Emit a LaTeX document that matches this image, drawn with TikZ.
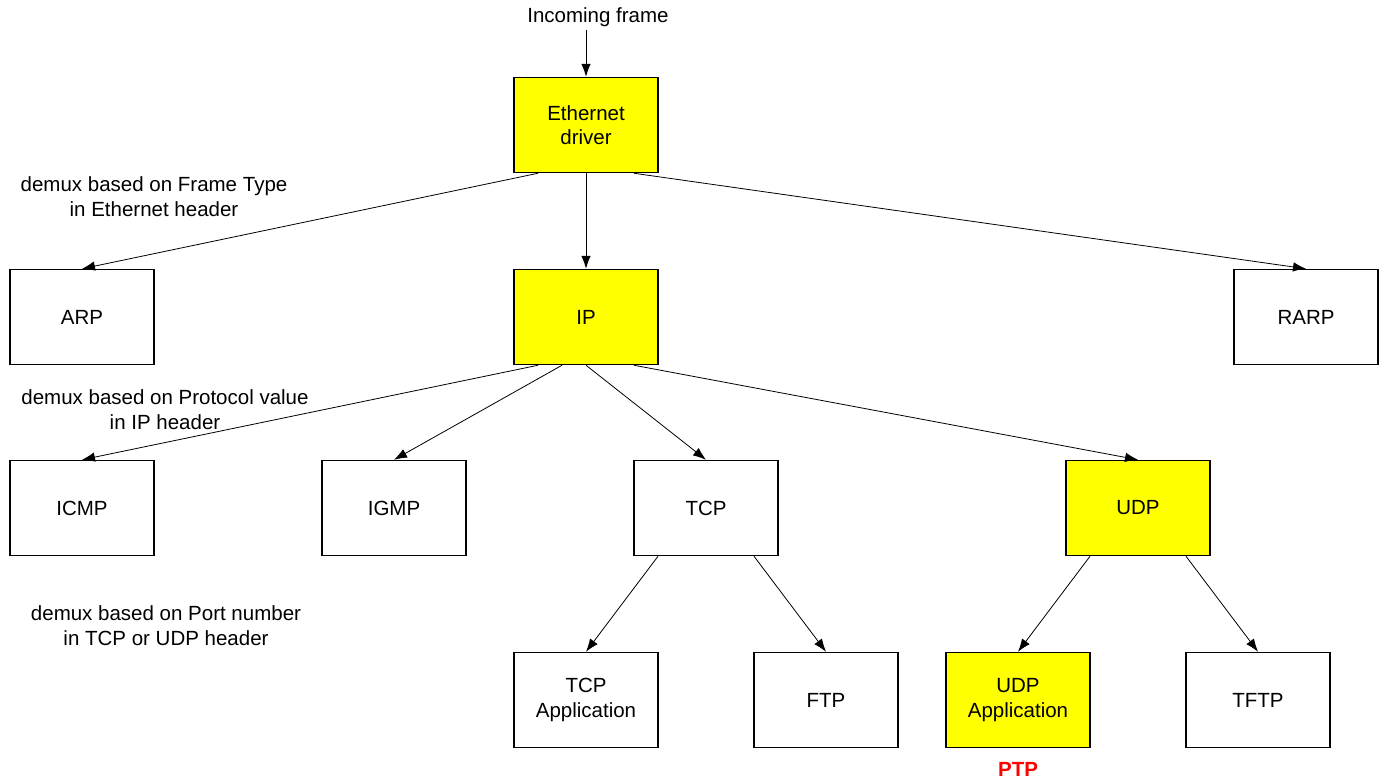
\documentclass[tikz,border=0pt]{standalone}
\usepackage{fontspec}
\setmainfont{Liberation Sans}
\usetikzlibrary{arrows.meta}
\definecolor{boxyellow}{RGB}{255,255,0}
\definecolor{ptpred}{RGB}{255,0,0}
\tikzset{
  proto/.style={draw=black, line width=1.5pt, minimum width=144pt, minimum height=95pt, align=center, inner sep=2pt, font=\fontsize{20.5}{24.5}\selectfont},
  hl/.style={proto, fill=boxyellow},
  conn/.style={line width=0.8pt, -{Latex[length=13pt,width=9.5pt]}},
  note/.style={align=center, font=\fontsize{20.5}{25}\selectfont}
}
\begin{document}
\begin{tikzpicture}[x=1pt,y=-1pt]
\useasboundingbox (0,0) rectangle (1380,780);
\node[note, anchor=center] (inc) at (598,17) {Incoming frame};
\node[hl] (eth) at (586,125) {Ethernet\\driver};
\node[proto] (arp) at (82,317) {ARP};
\node[hl] (ip) at (586,317) {IP};
\node[proto] (rarp) at (1306,317) {RARP};
\node[proto] (icmp) at (82,508) {ICMP};
\node[proto] (igmp) at (394,508) {IGMP};
\node[proto] (tcp) at (706,508) {TCP};
\node[hl] (udp) at (1138,508) {UDP};
\node[proto] (tcpapp) at (586,700) {TCP\\Application};
\node[proto] (ftp) at (826,700) {FTP};
\node[hl] (udpapp) at (1018,700) {UDP\\Application};
\node[proto] (tftp) at (1258,700) {TFTP};
\node[anchor=base, text=ptpred, font=\fontsize{20.5}{24}\selectfont\bfseries] (ptp) at (1018,776) {PTP};
\node[note] (n1) at (154,197) {demux based on Frame Type\\in Ethernet header};
\node[note] (n2) at (165,410) {demux based on Protocol value\\in IP header};
\node[note] (n3) at (166,626) {demux based on Port number\\in TCP or UDP header};
\draw[conn] (inc.south -| eth.north) -- (eth.north);
\draw[conn] ([xshift=-48pt]eth.south) -- (arp.north);
\draw[conn] (eth.south) -- (ip.north);
\draw[conn] ([xshift=48pt]eth.south) -- (rarp.north);
\draw[conn] ([xshift=-48pt]ip.south) -- (icmp.north);
\draw[conn] ([xshift=-24pt]ip.south) -- (igmp.north);
\draw[conn] (ip.south) -- (tcp.north);
\draw[conn] ([xshift=48pt]ip.south) -- (udp.north);
\draw[conn] ([xshift=-48pt]tcp.south) -- (tcpapp.north);
\draw[conn] ([xshift=48pt]tcp.south) -- (ftp.north);
\draw[conn] ([xshift=-48pt]udp.south) -- (udpapp.north);
\draw[conn] ([xshift=48pt]udp.south) -- (tftp.north);
\end{tikzpicture}
\end{document}
